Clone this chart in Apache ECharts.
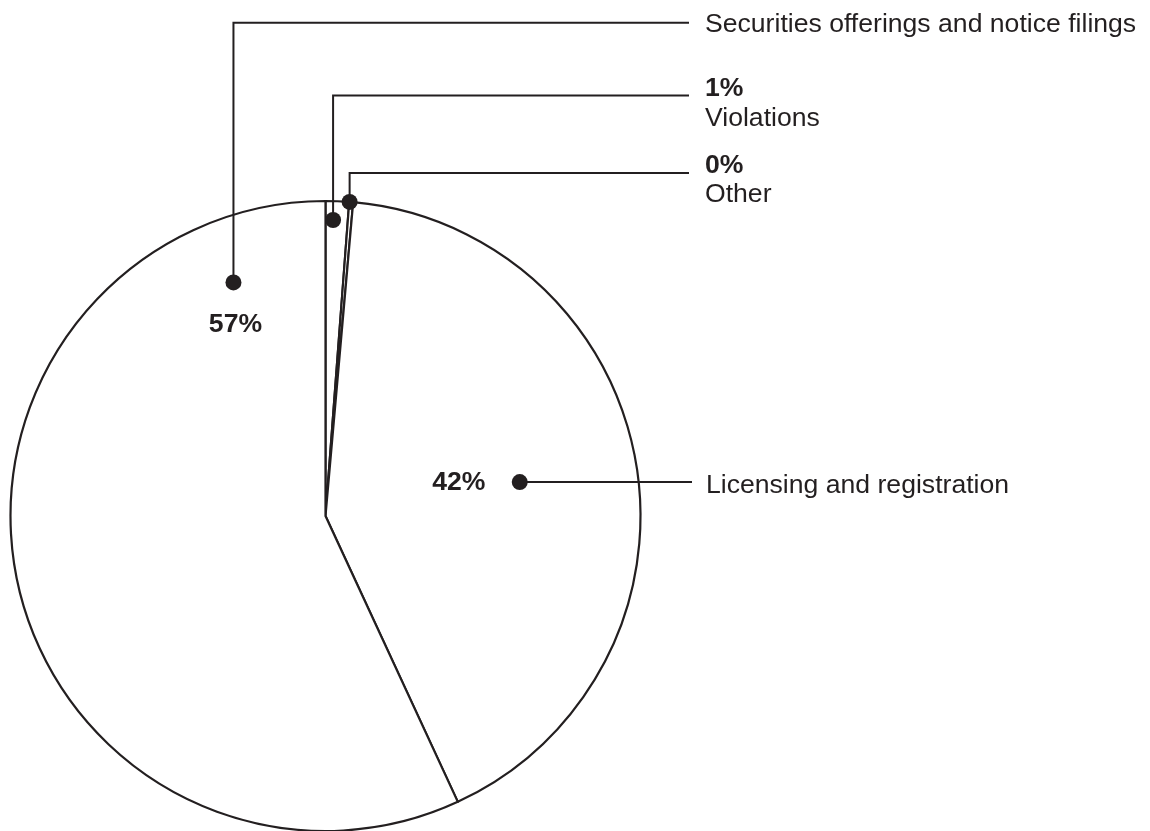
<!DOCTYPE html>
<html>
<head>
<meta charset="utf-8">
<script src="https://cdn.jsdelivr.net/npm/echarts@6/dist/echarts.min.js"></script>
<style>
html,body{margin:0;padding:0;background:#fff;}
#c{width:1150px;height:831px;}
</style>
</head>
<body>
<div id="c"></div>
<script>
// ---- data ----
const categories = ['Violations', 'Other', 'Licensing and registration', 'Securities offerings and notice filings'];
const values = [1.2, 0.2, 41.7, 56.9];
const percentLabels = ['1%', '0%', '42%', '57%'];

// ---- annotation layout (styling, not data) ----
const INK = '#231f20';
const FONT = '"Liberation Sans", Arial, Helvetica, sans-serif';
const FS = 26.6;
const LINE_END_X = 689;
const TEXT_X = 705;
const annotations = [
  { idx: 0, angleFrac: 0.34, radiusFrac: 0.94, elbowY: 95.5, texts: [{ pct: true, dy: 88.5 }, { name: true, dy: 119 }] },
  { idx: 1, angleFrac: 0.1, radiusFrac: 1.0, elbowY: 173, texts: [{ pct: true, dy: 166 }, { name: true, dy: 195 }] },
  { idx: 2, angleFrac: 0.5, radiusFrac: 0.626, elbowY: null, nameDy: 3.5, pctSide: 'left' },
  { idx: 3, angleFrac: 0.895, radiusFrac: 0.797, elbowY: 22.7, texts: [{ name: true, dy: 25 }], pctSide: 'below' }
];

const chart = echarts.init(document.getElementById('c'), null, { renderer: 'canvas' });
const CENTER = [325.5, 516];
const RADIUS = 315;
chart.setOption({
  animation: false,
  backgroundColor: '#ffffff',
  series: [{
    type: 'pie',
    center: CENTER,
    radius: RADIUS,
    startAngle: 90,
    clockwise: true,
    minAngle: 0,
    avoidLabelOverlap: false,
    silent: true,
    label: { show: false },
    labelLine: { show: false },
    emphasis: { disabled: true },
    itemStyle: { color: '#ffffff', borderColor: INK, borderWidth: 2.2 },
    data: categories.map((n, i) => ({ name: n, value: values[i] }))
  }]
});

// slice geometry from the library's pie layout
function sliceLayout(i) {
  try {
    const d = chart.getModel().getSeriesByIndex(0).getData();
    const L = d.getItemLayout(i);
    if (L && isFinite(L.startAngle)) return L;
  } catch (e) {}
  const total = values.reduce((a, b) => a + b, 0);
  let start = -Math.PI / 2;
  for (let k = 0; k < i; k++) start += values[k] / total * Math.PI * 2;
  return { cx: CENTER[0], cy: CENTER[1], r: RADIUS, startAngle: start, endAngle: start + values[i] / total * Math.PI * 2 };
}
function anchor(i, af, rf) {
  const L = sliceLayout(i);
  const a = L.startAngle + (L.endAngle - L.startAngle) * af;
  return [L.cx + L.r * rf * Math.cos(a), L.cy + L.r * rf * Math.sin(a)];
}

const graphics = [];
function txt(x, y, text, bold, align) {
  graphics.push({
    type: 'text', x: x, y: y, silent: true, z: 10,
    style: { text: text, fill: INK, fontSize: FS, fontFamily: FONT, fontWeight: bold ? 'bold' : 'normal', align: align || 'left', verticalAlign: 'middle' }
  });
}
annotations.forEach(an => {
  const p = anchor(an.idx, an.angleFrac, an.radiusFrac);
  let pts;
  if (an.elbowY !== null) {
    pts = [[p[0], p[1]], [p[0], an.elbowY], [LINE_END_X, an.elbowY]];
  } else {
    pts = [[p[0], p[1]], [LINE_END_X + 3, p[1]]];
  }
  graphics.push({ type: 'polyline', silent: true, z: 5, shape: { points: pts }, style: { stroke: INK, lineWidth: 2, fill: null } });
  graphics.push({ type: 'circle', silent: true, z: 6, shape: { cx: p[0], cy: p[1], r: 8 }, style: { fill: INK } });
  if (an.texts) {
    an.texts.forEach(t => {
      txt(TEXT_X, t.dy, t.pct ? percentLabels[an.idx] : categories[an.idx], !!t.pct);
    });
  } else {
    txt(TEXT_X + 1, p[1] + an.nameDy, categories[an.idx], false);
  }
  if (an.pctSide === 'left') {
    txt(p[0] - 61, p[1] + 1, percentLabels[an.idx], true, 'center');
  } else if (an.pctSide === 'below') {
    txt(p[0] + 2, p[1] + 42, percentLabels[an.idx], true, 'center');
  }
});
chart.setOption({ graphic: graphics });
</script>
</body>
</html>
